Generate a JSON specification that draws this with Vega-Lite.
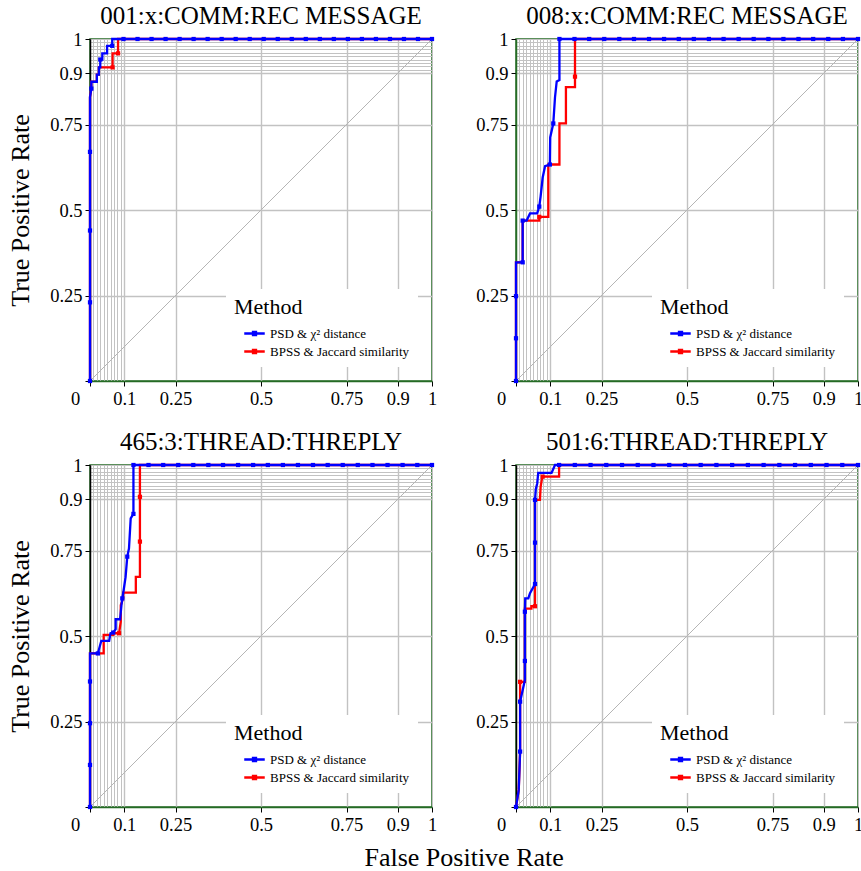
{
 "$schema": "https://vega.github.io/schema/vega-lite/v6.json",
 "padding": {"left": 6, "top": 3, "right": 0, "bottom": 5},
 "config": {
  "font": "Liberation Serif",
  "view": {"stroke": "#256b25", "strokeWidth": 1.5},
  "axis": {"grid": true, "gridColor": "#c2c2c2", "labelFont": "Liberation Serif", "labelFontSize": 18.5, "labelColor": "black", "labelOverlap": false, "labelFlush": false, "labelPadding": 3, "tickSize": 5, "tickWidth": 1, "titleFont": "Liberation Serif", "titleFontSize": 26, "titleFontWeight": "normal", "titleColor": "black", "domainWidth": 1.5},
  "title": {"font": "Liberation Serif", "fontSize": 25, "fontWeight": "normal", "color": "black", "offset": 1},
  "legend": {"orient": "bottom-right", "offset": 14, "padding": 8, "fillColor": "white", "titleFont": "Liberation Serif", "titleFontSize": 22, "titleFontWeight": "normal", "titleColor": "black", "labelFont": "Liberation Serif", "labelFontSize": 13, "labelColor": "black", "symbolType": "M-1,-0.11H1V0.11H-1Z M-0.26,-0.26H0.26V0.26H-0.26Z", "symbolSize": 420, "symbolStrokeWidth": 0, "symbolOffset": 10, "rowPadding": -2, "titlePadding": 4, "labelOffset": 5}
 },
 "datasets": {
  "diag": [{"fpr": 0, "tpr": 0}, {"fpr": 1, "tpr": 1}],
  "curves": [
   {"panel": "001", "method": "BPSS & Jaccard similarity", "fpr": 0, "tpr": 0},
   {"panel": "001", "method": "BPSS & Jaccard similarity", "fpr": 0, "tpr": 0.83},
   {"panel": "001", "method": "BPSS & Jaccard similarity", "fpr": 0.004, "tpr": 0.855},
   {"panel": "001", "method": "BPSS & Jaccard similarity", "fpr": 0.004, "tpr": 0.875},
   {"panel": "001", "method": "BPSS & Jaccard similarity", "fpr": 0.02, "tpr": 0.875},
   {"panel": "001", "method": "BPSS & Jaccard similarity", "fpr": 0.02, "tpr": 0.896},
   {"panel": "001", "method": "BPSS & Jaccard similarity", "fpr": 0.026, "tpr": 0.896},
   {"panel": "001", "method": "BPSS & Jaccard similarity", "fpr": 0.026, "tpr": 0.917},
   {"panel": "001", "method": "BPSS & Jaccard similarity", "fpr": 0.066, "tpr": 0.917},
   {"panel": "001", "method": "BPSS & Jaccard similarity", "fpr": 0.066, "tpr": 0.958},
   {"panel": "001", "method": "BPSS & Jaccard similarity", "fpr": 0.082, "tpr": 0.958},
   {"panel": "001", "method": "BPSS & Jaccard similarity", "fpr": 0.082, "tpr": 1},
   {"panel": "001", "method": "BPSS & Jaccard similarity", "fpr": 1, "tpr": 1},
   {"panel": "001", "method": "PSD & χ² distance", "fpr": 0, "tpr": 0},
   {"panel": "001", "method": "PSD & χ² distance", "fpr": 0, "tpr": 0.83},
   {"panel": "001", "method": "PSD & χ² distance", "fpr": 0.004, "tpr": 0.855},
   {"panel": "001", "method": "PSD & χ² distance", "fpr": 0.004, "tpr": 0.875},
   {"panel": "001", "method": "PSD & χ² distance", "fpr": 0.02, "tpr": 0.875},
   {"panel": "001", "method": "PSD & χ² distance", "fpr": 0.02, "tpr": 0.896},
   {"panel": "001", "method": "PSD & χ² distance", "fpr": 0.026, "tpr": 0.896},
   {"panel": "001", "method": "PSD & χ² distance", "fpr": 0.026, "tpr": 0.917},
   {"panel": "001", "method": "PSD & χ² distance", "fpr": 0.03, "tpr": 0.917},
   {"panel": "001", "method": "PSD & χ² distance", "fpr": 0.03, "tpr": 0.94},
   {"panel": "001", "method": "PSD & χ² distance", "fpr": 0.036, "tpr": 0.94},
   {"panel": "001", "method": "PSD & χ² distance", "fpr": 0.036, "tpr": 0.958},
   {"panel": "001", "method": "PSD & χ² distance", "fpr": 0.05, "tpr": 0.958},
   {"panel": "001", "method": "PSD & χ² distance", "fpr": 0.05, "tpr": 0.98},
   {"panel": "001", "method": "PSD & χ² distance", "fpr": 0.065, "tpr": 0.98},
   {"panel": "001", "method": "PSD & χ² distance", "fpr": 0.065, "tpr": 1},
   {"panel": "001", "method": "PSD & χ² distance", "fpr": 1, "tpr": 1},

   {"panel": "008", "method": "BPSS & Jaccard similarity", "fpr": 0, "tpr": 0},
   {"panel": "008", "method": "BPSS & Jaccard similarity", "fpr": 0, "tpr": 0.347},
   {"panel": "008", "method": "BPSS & Jaccard similarity", "fpr": 0.0195, "tpr": 0.347},
   {"panel": "008", "method": "BPSS & Jaccard similarity", "fpr": 0.0195, "tpr": 0.469},
   {"panel": "008", "method": "BPSS & Jaccard similarity", "fpr": 0.068, "tpr": 0.469},
   {"panel": "008", "method": "BPSS & Jaccard similarity", "fpr": 0.068, "tpr": 0.48},
   {"panel": "008", "method": "BPSS & Jaccard similarity", "fpr": 0.0945, "tpr": 0.48},
   {"panel": "008", "method": "BPSS & Jaccard similarity", "fpr": 0.0945, "tpr": 0.633},
   {"panel": "008", "method": "BPSS & Jaccard similarity", "fpr": 0.127, "tpr": 0.633},
   {"panel": "008", "method": "BPSS & Jaccard similarity", "fpr": 0.127, "tpr": 0.753},
   {"panel": "008", "method": "BPSS & Jaccard similarity", "fpr": 0.146, "tpr": 0.753},
   {"panel": "008", "method": "BPSS & Jaccard similarity", "fpr": 0.146, "tpr": 0.859},
   {"panel": "008", "method": "BPSS & Jaccard similarity", "fpr": 0.1725, "tpr": 0.859},
   {"panel": "008", "method": "BPSS & Jaccard similarity", "fpr": 0.1725, "tpr": 1},
   {"panel": "008", "method": "BPSS & Jaccard similarity", "fpr": 1, "tpr": 1},
   {"panel": "008", "method": "PSD & χ² distance", "fpr": 0, "tpr": 0},
   {"panel": "008", "method": "PSD & χ² distance", "fpr": 0, "tpr": 0.347},
   {"panel": "008", "method": "PSD & χ² distance", "fpr": 0.0195, "tpr": 0.347},
   {"panel": "008", "method": "PSD & χ² distance", "fpr": 0.0195, "tpr": 0.469},
   {"panel": "008", "method": "PSD & χ² distance", "fpr": 0.031, "tpr": 0.469},
   {"panel": "008", "method": "PSD & χ² distance", "fpr": 0.041, "tpr": 0.49},
   {"panel": "008", "method": "PSD & χ² distance", "fpr": 0.062, "tpr": 0.49},
   {"panel": "008", "method": "PSD & χ² distance", "fpr": 0.068, "tpr": 0.51},
   {"panel": "008", "method": "PSD & χ² distance", "fpr": 0.072, "tpr": 0.54},
   {"panel": "008", "method": "PSD & χ² distance", "fpr": 0.078, "tpr": 0.595},
   {"panel": "008", "method": "PSD & χ² distance", "fpr": 0.085, "tpr": 0.628},
   {"panel": "008", "method": "PSD & χ² distance", "fpr": 0.099, "tpr": 0.633},
   {"panel": "008", "method": "PSD & χ² distance", "fpr": 0.1, "tpr": 0.712},
   {"panel": "008", "method": "PSD & χ² distance", "fpr": 0.109, "tpr": 0.753},
   {"panel": "008", "method": "PSD & χ² distance", "fpr": 0.114, "tpr": 0.829},
   {"panel": "008", "method": "PSD & χ² distance", "fpr": 0.119, "tpr": 0.876},
   {"panel": "008", "method": "PSD & χ² distance", "fpr": 0.127, "tpr": 0.88},
   {"panel": "008", "method": "PSD & χ² distance", "fpr": 0.127, "tpr": 1},
   {"panel": "008", "method": "PSD & χ² distance", "fpr": 1, "tpr": 1},

   {"panel": "465", "method": "BPSS & Jaccard similarity", "fpr": 0, "tpr": 0},
   {"panel": "465", "method": "BPSS & Jaccard similarity", "fpr": 0, "tpr": 0.449},
   {"panel": "465", "method": "BPSS & Jaccard similarity", "fpr": 0.04, "tpr": 0.449},
   {"panel": "465", "method": "BPSS & Jaccard similarity", "fpr": 0.04, "tpr": 0.503},
   {"panel": "465", "method": "BPSS & Jaccard similarity", "fpr": 0.068, "tpr": 0.503},
   {"panel": "465", "method": "BPSS & Jaccard similarity", "fpr": 0.068, "tpr": 0.508},
   {"panel": "465", "method": "BPSS & Jaccard similarity", "fpr": 0.085, "tpr": 0.508},
   {"panel": "465", "method": "BPSS & Jaccard similarity", "fpr": 0.09, "tpr": 0.542},
   {"panel": "465", "method": "BPSS & Jaccard similarity", "fpr": 0.09, "tpr": 0.59},
   {"panel": "465", "method": "BPSS & Jaccard similarity", "fpr": 0.097, "tpr": 0.61},
   {"panel": "465", "method": "BPSS & Jaccard similarity", "fpr": 0.097, "tpr": 0.627},
   {"panel": "465", "method": "BPSS & Jaccard similarity", "fpr": 0.134, "tpr": 0.627},
   {"panel": "465", "method": "BPSS & Jaccard similarity", "fpr": 0.134, "tpr": 0.673},
   {"panel": "465", "method": "BPSS & Jaccard similarity", "fpr": 0.146, "tpr": 0.673},
   {"panel": "465", "method": "BPSS & Jaccard similarity", "fpr": 0.146, "tpr": 1},
   {"panel": "465", "method": "BPSS & Jaccard similarity", "fpr": 1, "tpr": 1},
   {"panel": "465", "method": "PSD & χ² distance", "fpr": 0, "tpr": 0},
   {"panel": "465", "method": "PSD & χ² distance", "fpr": 0, "tpr": 0.449},
   {"panel": "465", "method": "PSD & χ² distance", "fpr": 0.023, "tpr": 0.449},
   {"panel": "465", "method": "PSD & χ² distance", "fpr": 0.033, "tpr": 0.486},
   {"panel": "465", "method": "PSD & χ² distance", "fpr": 0.056, "tpr": 0.486},
   {"panel": "465", "method": "PSD & χ² distance", "fpr": 0.06, "tpr": 0.508},
   {"panel": "465", "method": "PSD & χ² distance", "fpr": 0.068, "tpr": 0.51},
   {"panel": "465", "method": "PSD & χ² distance", "fpr": 0.075, "tpr": 0.52},
   {"panel": "465", "method": "PSD & χ² distance", "fpr": 0.075, "tpr": 0.549},
   {"panel": "465", "method": "PSD & χ² distance", "fpr": 0.088, "tpr": 0.549},
   {"panel": "465", "method": "PSD & χ² distance", "fpr": 0.092, "tpr": 0.59},
   {"panel": "465", "method": "PSD & χ² distance", "fpr": 0.0945, "tpr": 0.61},
   {"panel": "465", "method": "PSD & χ² distance", "fpr": 0.097, "tpr": 0.625},
   {"panel": "465", "method": "PSD & χ² distance", "fpr": 0.104, "tpr": 0.672},
   {"panel": "465", "method": "PSD & χ² distance", "fpr": 0.109, "tpr": 0.732},
   {"panel": "465", "method": "PSD & χ² distance", "fpr": 0.114, "tpr": 0.756},
   {"panel": "465", "method": "PSD & χ² distance", "fpr": 0.119, "tpr": 0.844},
   {"panel": "465", "method": "PSD & χ² distance", "fpr": 0.127, "tpr": 0.857},
   {"panel": "465", "method": "PSD & χ² distance", "fpr": 0.127, "tpr": 1},
   {"panel": "465", "method": "PSD & χ² distance", "fpr": 1, "tpr": 1},

   {"panel": "501", "method": "BPSS & Jaccard similarity", "fpr": 0, "tpr": 0},
   {"panel": "501", "method": "BPSS & Jaccard similarity", "fpr": 0.008, "tpr": 0.05},
   {"panel": "501", "method": "BPSS & Jaccard similarity", "fpr": 0.012, "tpr": 0.162},
   {"panel": "501", "method": "BPSS & Jaccard similarity", "fpr": 0.012, "tpr": 0.366},
   {"panel": "501", "method": "BPSS & Jaccard similarity", "fpr": 0.026, "tpr": 0.366},
   {"panel": "501", "method": "BPSS & Jaccard similarity", "fpr": 0.026, "tpr": 0.58},
   {"panel": "501", "method": "BPSS & Jaccard similarity", "fpr": 0.045, "tpr": 0.58},
   {"panel": "501", "method": "BPSS & Jaccard similarity", "fpr": 0.045, "tpr": 0.587},
   {"panel": "501", "method": "BPSS & Jaccard similarity", "fpr": 0.0556, "tpr": 0.587},
   {"panel": "501", "method": "BPSS & Jaccard similarity", "fpr": 0.0556, "tpr": 0.898},
   {"panel": "501", "method": "BPSS & Jaccard similarity", "fpr": 0.07, "tpr": 0.898},
   {"panel": "501", "method": "BPSS & Jaccard similarity", "fpr": 0.072, "tpr": 0.936},
   {"panel": "501", "method": "BPSS & Jaccard similarity", "fpr": 0.077, "tpr": 0.966},
   {"panel": "501", "method": "BPSS & Jaccard similarity", "fpr": 0.126, "tpr": 0.966},
   {"panel": "501", "method": "BPSS & Jaccard similarity", "fpr": 0.126, "tpr": 1},
   {"panel": "501", "method": "BPSS & Jaccard similarity", "fpr": 1, "tpr": 1},
   {"panel": "501", "method": "PSD & χ² distance", "fpr": 0, "tpr": 0},
   {"panel": "501", "method": "PSD & χ² distance", "fpr": 0.008, "tpr": 0.05},
   {"panel": "501", "method": "PSD & χ² distance", "fpr": 0.012, "tpr": 0.162},
   {"panel": "501", "method": "PSD & χ² distance", "fpr": 0.012, "tpr": 0.308},
   {"panel": "501", "method": "PSD & χ² distance", "fpr": 0.026, "tpr": 0.371},
   {"panel": "501", "method": "PSD & χ² distance", "fpr": 0.026, "tpr": 0.571},
   {"panel": "501", "method": "PSD & χ² distance", "fpr": 0.027, "tpr": 0.61},
   {"panel": "501", "method": "PSD & χ² distance", "fpr": 0.036, "tpr": 0.61},
   {"panel": "501", "method": "PSD & χ² distance", "fpr": 0.041, "tpr": 0.625},
   {"panel": "501", "method": "PSD & χ² distance", "fpr": 0.0556, "tpr": 0.652},
   {"panel": "501", "method": "PSD & χ² distance", "fpr": 0.0556, "tpr": 0.898},
   {"panel": "501", "method": "PSD & χ² distance", "fpr": 0.058, "tpr": 0.93},
   {"panel": "501", "method": "PSD & χ² distance", "fpr": 0.062, "tpr": 0.946},
   {"panel": "501", "method": "PSD & χ² distance", "fpr": 0.065, "tpr": 0.977},
   {"panel": "501", "method": "PSD & χ² distance", "fpr": 0.104, "tpr": 0.977},
   {"panel": "501", "method": "PSD & χ² distance", "fpr": 0.114, "tpr": 1},
   {"panel": "501", "method": "PSD & χ² distance", "fpr": 1, "tpr": 1}
  ],
  "markers": [
   {"panel": "001", "method": "BPSS & Jaccard similarity", "fpr": 0.066, "tpr": 0.917},
   {"panel": "001", "method": "BPSS & Jaccard similarity", "fpr": 0.082, "tpr": 0.958},
   {"panel": "001", "method": "PSD & χ² distance", "fpr": 0, "tpr": 0},
   {"panel": "001", "method": "PSD & χ² distance", "fpr": 0, "tpr": 0.23},
   {"panel": "001", "method": "PSD & χ² distance", "fpr": 0, "tpr": 0.44},
   {"panel": "001", "method": "PSD & χ² distance", "fpr": 0, "tpr": 0.67},
   {"panel": "001", "method": "PSD & χ² distance", "fpr": 0.004, "tpr": 0.855},
   {"panel": "001", "method": "PSD & χ² distance", "fpr": 0.03, "tpr": 0.94},
   {"panel": "001", "method": "PSD & χ² distance", "fpr": 0.065, "tpr": 0.98},
   {"panel": "001", "method": "PSD & χ² distance", "fpr": 0.098, "tpr": 1},
   {"panel": "001", "method": "PSD & χ² distance", "fpr": 0.139, "tpr": 1},
   {"panel": "001", "method": "PSD & χ² distance", "fpr": 0.18, "tpr": 1},
   {"panel": "001", "method": "PSD & χ² distance", "fpr": 0.221, "tpr": 1},
   {"panel": "001", "method": "PSD & χ² distance", "fpr": 0.262, "tpr": 1},
   {"panel": "001", "method": "PSD & χ² distance", "fpr": 0.303, "tpr": 1},
   {"panel": "001", "method": "PSD & χ² distance", "fpr": 0.344, "tpr": 1},
   {"panel": "001", "method": "PSD & χ² distance", "fpr": 0.385, "tpr": 1},
   {"panel": "001", "method": "PSD & χ² distance", "fpr": 0.426, "tpr": 1},
   {"panel": "001", "method": "PSD & χ² distance", "fpr": 0.467, "tpr": 1},
   {"panel": "001", "method": "PSD & χ² distance", "fpr": 0.508, "tpr": 1},
   {"panel": "001", "method": "PSD & χ² distance", "fpr": 0.549, "tpr": 1},
   {"panel": "001", "method": "PSD & χ² distance", "fpr": 0.59, "tpr": 1},
   {"panel": "001", "method": "PSD & χ² distance", "fpr": 0.631, "tpr": 1},
   {"panel": "001", "method": "PSD & χ² distance", "fpr": 0.672, "tpr": 1},
   {"panel": "001", "method": "PSD & χ² distance", "fpr": 0.713, "tpr": 1},
   {"panel": "001", "method": "PSD & χ² distance", "fpr": 0.754, "tpr": 1},
   {"panel": "001", "method": "PSD & χ² distance", "fpr": 0.795, "tpr": 1},
   {"panel": "001", "method": "PSD & χ² distance", "fpr": 0.836, "tpr": 1},
   {"panel": "001", "method": "PSD & χ² distance", "fpr": 0.877, "tpr": 1},
   {"panel": "001", "method": "PSD & χ² distance", "fpr": 0.918, "tpr": 1},
   {"panel": "001", "method": "PSD & χ² distance", "fpr": 0.959, "tpr": 1},
   {"panel": "001", "method": "PSD & χ² distance", "fpr": 1, "tpr": 1},

   {"panel": "008", "method": "BPSS & Jaccard similarity", "fpr": 0.068, "tpr": 0.48},
   {"panel": "008", "method": "BPSS & Jaccard similarity", "fpr": 0.1725, "tpr": 0.89},
   {"panel": "008", "method": "PSD & χ² distance", "fpr": 0, "tpr": 0},
   {"panel": "008", "method": "PSD & χ² distance", "fpr": 0, "tpr": 0.125},
   {"panel": "008", "method": "PSD & χ² distance", "fpr": 0, "tpr": 0.248},
   {"panel": "008", "method": "PSD & χ² distance", "fpr": 0.0195, "tpr": 0.347},
   {"panel": "008", "method": "PSD & χ² distance", "fpr": 0.0195, "tpr": 0.469},
   {"panel": "008", "method": "PSD & χ² distance", "fpr": 0.068, "tpr": 0.51},
   {"panel": "008", "method": "PSD & χ² distance", "fpr": 0.099, "tpr": 0.633},
   {"panel": "008", "method": "PSD & χ² distance", "fpr": 0.109, "tpr": 0.753},
   {"panel": "008", "method": "PSD & χ² distance", "fpr": 0.127, "tpr": 1},
   {"panel": "008", "method": "PSD & χ² distance", "fpr": 0.171, "tpr": 1},
   {"panel": "008", "method": "PSD & χ² distance", "fpr": 0.214, "tpr": 1},
   {"panel": "008", "method": "PSD & χ² distance", "fpr": 0.258, "tpr": 1},
   {"panel": "008", "method": "PSD & χ² distance", "fpr": 0.302, "tpr": 1},
   {"panel": "008", "method": "PSD & χ² distance", "fpr": 0.345, "tpr": 1},
   {"panel": "008", "method": "PSD & χ² distance", "fpr": 0.389, "tpr": 1},
   {"panel": "008", "method": "PSD & χ² distance", "fpr": 0.433, "tpr": 1},
   {"panel": "008", "method": "PSD & χ² distance", "fpr": 0.476, "tpr": 1},
   {"panel": "008", "method": "PSD & χ² distance", "fpr": 0.52, "tpr": 1},
   {"panel": "008", "method": "PSD & χ² distance", "fpr": 0.564, "tpr": 1},
   {"panel": "008", "method": "PSD & χ² distance", "fpr": 0.607, "tpr": 1},
   {"panel": "008", "method": "PSD & χ² distance", "fpr": 0.651, "tpr": 1},
   {"panel": "008", "method": "PSD & χ² distance", "fpr": 0.695, "tpr": 1},
   {"panel": "008", "method": "PSD & χ² distance", "fpr": 0.738, "tpr": 1},
   {"panel": "008", "method": "PSD & χ² distance", "fpr": 0.782, "tpr": 1},
   {"panel": "008", "method": "PSD & χ² distance", "fpr": 0.826, "tpr": 1},
   {"panel": "008", "method": "PSD & χ² distance", "fpr": 0.869, "tpr": 1},
   {"panel": "008", "method": "PSD & χ² distance", "fpr": 0.913, "tpr": 1},
   {"panel": "008", "method": "PSD & χ² distance", "fpr": 0.956, "tpr": 1},
   {"panel": "008", "method": "PSD & χ² distance", "fpr": 1, "tpr": 1},

   {"panel": "465", "method": "BPSS & Jaccard similarity", "fpr": 0.085, "tpr": 0.508},
   {"panel": "465", "method": "BPSS & Jaccard similarity", "fpr": 0.146, "tpr": 0.776},
   {"panel": "465", "method": "BPSS & Jaccard similarity", "fpr": 0.146, "tpr": 0.907},
   {"panel": "465", "method": "PSD & χ² distance", "fpr": 0, "tpr": 0},
   {"panel": "465", "method": "PSD & χ² distance", "fpr": 0, "tpr": 0.123},
   {"panel": "465", "method": "PSD & χ² distance", "fpr": 0, "tpr": 0.245},
   {"panel": "465", "method": "PSD & χ² distance", "fpr": 0, "tpr": 0.367},
   {"panel": "465", "method": "PSD & χ² distance", "fpr": 0.023, "tpr": 0.449},
   {"panel": "465", "method": "PSD & χ² distance", "fpr": 0.068, "tpr": 0.51},
   {"panel": "465", "method": "PSD & χ² distance", "fpr": 0.0945, "tpr": 0.61},
   {"panel": "465", "method": "PSD & χ² distance", "fpr": 0.109, "tpr": 0.732},
   {"panel": "465", "method": "PSD & χ² distance", "fpr": 0.127, "tpr": 0.857},
   {"panel": "465", "method": "PSD & χ² distance", "fpr": 0.127, "tpr": 1},
   {"panel": "465", "method": "PSD & χ² distance", "fpr": 0.171, "tpr": 1},
   {"panel": "465", "method": "PSD & χ² distance", "fpr": 0.214, "tpr": 1},
   {"panel": "465", "method": "PSD & χ² distance", "fpr": 0.258, "tpr": 1},
   {"panel": "465", "method": "PSD & χ² distance", "fpr": 0.302, "tpr": 1},
   {"panel": "465", "method": "PSD & χ² distance", "fpr": 0.346, "tpr": 1},
   {"panel": "465", "method": "PSD & χ² distance", "fpr": 0.389, "tpr": 1},
   {"panel": "465", "method": "PSD & χ² distance", "fpr": 0.433, "tpr": 1},
   {"panel": "465", "method": "PSD & χ² distance", "fpr": 0.477, "tpr": 1},
   {"panel": "465", "method": "PSD & χ² distance", "fpr": 0.52, "tpr": 1},
   {"panel": "465", "method": "PSD & χ² distance", "fpr": 0.564, "tpr": 1},
   {"panel": "465", "method": "PSD & χ² distance", "fpr": 0.608, "tpr": 1},
   {"panel": "465", "method": "PSD & χ² distance", "fpr": 0.652, "tpr": 1},
   {"panel": "465", "method": "PSD & χ² distance", "fpr": 0.695, "tpr": 1},
   {"panel": "465", "method": "PSD & χ² distance", "fpr": 0.739, "tpr": 1},
   {"panel": "465", "method": "PSD & χ² distance", "fpr": 0.783, "tpr": 1},
   {"panel": "465", "method": "PSD & χ² distance", "fpr": 0.826, "tpr": 1},
   {"panel": "465", "method": "PSD & χ² distance", "fpr": 0.87, "tpr": 1},
   {"panel": "465", "method": "PSD & χ² distance", "fpr": 0.914, "tpr": 1},
   {"panel": "465", "method": "PSD & χ² distance", "fpr": 0.957, "tpr": 1},
   {"panel": "465", "method": "PSD & χ² distance", "fpr": 1, "tpr": 1},

   {"panel": "501", "method": "BPSS & Jaccard similarity", "fpr": 0.012, "tpr": 0.366},
   {"panel": "501", "method": "BPSS & Jaccard similarity", "fpr": 0.0556, "tpr": 0.587},
   {"panel": "501", "method": "BPSS & Jaccard similarity", "fpr": 0.078, "tpr": 0.966},
   {"panel": "501", "method": "PSD & χ² distance", "fpr": 0, "tpr": 0},
   {"panel": "501", "method": "PSD & χ² distance", "fpr": 0.012, "tpr": 0.162},
   {"panel": "501", "method": "PSD & χ² distance", "fpr": 0.012, "tpr": 0.308},
   {"panel": "501", "method": "PSD & χ² distance", "fpr": 0.026, "tpr": 0.427},
   {"panel": "501", "method": "PSD & χ² distance", "fpr": 0.026, "tpr": 0.571},
   {"panel": "501", "method": "PSD & χ² distance", "fpr": 0.0556, "tpr": 0.652},
   {"panel": "501", "method": "PSD & χ² distance", "fpr": 0.0556, "tpr": 0.773},
   {"panel": "501", "method": "PSD & χ² distance", "fpr": 0.0556, "tpr": 0.898},
   {"panel": "501", "method": "PSD & χ² distance", "fpr": 0.126, "tpr": 1},
   {"panel": "501", "method": "PSD & χ² distance", "fpr": 0.172, "tpr": 1},
   {"panel": "501", "method": "PSD & χ² distance", "fpr": 0.218, "tpr": 1},
   {"panel": "501", "method": "PSD & χ² distance", "fpr": 0.264, "tpr": 1},
   {"panel": "501", "method": "PSD & χ² distance", "fpr": 0.31, "tpr": 1},
   {"panel": "501", "method": "PSD & χ² distance", "fpr": 0.356, "tpr": 1},
   {"panel": "501", "method": "PSD & χ² distance", "fpr": 0.402, "tpr": 1},
   {"panel": "501", "method": "PSD & χ² distance", "fpr": 0.448, "tpr": 1},
   {"panel": "501", "method": "PSD & χ² distance", "fpr": 0.494, "tpr": 1},
   {"panel": "501", "method": "PSD & χ² distance", "fpr": 0.54, "tpr": 1},
   {"panel": "501", "method": "PSD & χ² distance", "fpr": 0.586, "tpr": 1},
   {"panel": "501", "method": "PSD & χ² distance", "fpr": 0.632, "tpr": 1},
   {"panel": "501", "method": "PSD & χ² distance", "fpr": 0.678, "tpr": 1},
   {"panel": "501", "method": "PSD & χ² distance", "fpr": 0.724, "tpr": 1},
   {"panel": "501", "method": "PSD & χ² distance", "fpr": 0.77, "tpr": 1},
   {"panel": "501", "method": "PSD & χ² distance", "fpr": 0.816, "tpr": 1},
   {"panel": "501", "method": "PSD & χ² distance", "fpr": 0.862, "tpr": 1},
   {"panel": "501", "method": "PSD & χ² distance", "fpr": 0.908, "tpr": 1},
   {"panel": "501", "method": "PSD & χ² distance", "fpr": 0.954, "tpr": 1},
   {"panel": "501", "method": "PSD & χ² distance", "fpr": 1, "tpr": 1}
  ]
 },
 "title": {"text": "False Positive Rate", "orient": "bottom", "anchor": "middle", "fontSize": 26, "offset": 11, "dx": 29},
 "columns": 2,
 "spacing": 84,
 "bounds": "flush",
 "resolve": {"scale": {"color": "independent"}, "legend": {"color": "independent"}},
 "concat": [
  {
   "width": 342, "height": 342,
   "title": "001:x:COMM:REC MESSAGE",
   "encoding": {
    "x": {"field": "fpr", "type": "quantitative", "scale": {"domain": [0, 1], "nice": false}, "axis": {"title": null, "values": [0, 0.01, 0.02, 0.03, 0.04, 0.05, 0.06, 0.07, 0.08, 0.09, 0.1, 0.25, 0.5, 0.75, 0.9, 1], "format": "~g", "labelExpr": "indexof([0,0.1,0.25,0.5,0.75,0.9,1], datum.value) >= 0 ? datum.label : ''", "labelOffset": {"condition": {"test": "datum.value == 0", "value": -15}, "value": 0}, "tickColor": {"condition": {"test": "indexof([0,0.1,0.25,0.5,0.75,0.9,1], datum.value) >= 0", "value": "#000000"}, "value": "rgba(0,0,0,0)"}, "gridWidth": {"condition": {"test": "indexof([0.1,0.25,0.5,0.75,0.9], datum.value) >= 0", "value": 1.4}, "value": 1}, "domainColor": "#256b25"}},
    "y": {"field": "tpr", "type": "quantitative", "scale": {"domain": [0, 1], "nice": false}, "axis": {"title": "True Positive Rate", "titlePadding": 16, "values": [0, 0.25, 0.5, 0.75, 0.9, 0.91, 0.92, 0.93, 0.94, 0.95, 0.96, 0.97, 0.98, 0.99, 1], "format": "~g", "labelExpr": "indexof([0.25,0.5,0.75,0.9,1], datum.value) >= 0 ? datum.label : ''", "tickColor": {"condition": {"test": "indexof([0,0.25,0.5,0.75,0.9,1], datum.value) >= 0", "value": "#000000"}, "value": "rgba(0,0,0,0)"}, "gridWidth": {"condition": {"test": "indexof([0.25,0.5,0.75,0.9], datum.value) >= 0", "value": 1.4}, "value": 1}, "domainColor": "#000000"}}
   },
   "layer": [
    {"data": {"name": "diag"}, "mark": {"type": "line", "color": "#b5b5b5", "strokeWidth": 1}, "encoding": {}},
    {"data": {"name": "curves"}, "transform": [{"filter": "datum.panel == '001' && datum.method == 'BPSS & Jaccard similarity'"}], "mark": {"type": "line", "strokeWidth": 2.3}, "encoding": {"color": {"field": "method", "type": "nominal", "title": "Method", "scale": {"domain": ["PSD & χ² distance", "BPSS & Jaccard similarity"], "range": ["#0000ff", "#ff0000"]}, "legend": {"title": "Method", "fillColor": "white"}}, "order": [{"field": "fpr", "type": "quantitative"}, {"field": "tpr", "type": "quantitative"}]}},
    {"data": {"name": "curves"}, "transform": [{"filter": "datum.panel == '001' && datum.method == 'PSD & χ² distance'"}], "mark": {"type": "line", "strokeWidth": 2.3}, "encoding": {"color": {"field": "method", "type": "nominal", "title": "Method", "scale": {"domain": ["PSD & χ² distance", "BPSS & Jaccard similarity"], "range": ["#0000ff", "#ff0000"]}, "legend": {"title": "Method", "fillColor": "white"}}, "order": [{"field": "fpr", "type": "quantitative"}, {"field": "tpr", "type": "quantitative"}]}},
    {"data": {"name": "markers"}, "transform": [{"filter": "datum.panel == '001' && datum.method == 'BPSS & Jaccard similarity'"}], "mark": {"type": "square", "size": 18, "opacity": 1}, "encoding": {"color": {"field": "method", "type": "nominal", "title": "Method", "scale": {"domain": ["PSD & χ² distance", "BPSS & Jaccard similarity"], "range": ["#0000ff", "#ff0000"]}, "legend": {"title": "Method", "fillColor": "white"}}}},
    {"data": {"name": "markers"}, "transform": [{"filter": "datum.panel == '001' && datum.method == 'PSD & χ² distance'"}], "mark": {"type": "square", "size": 18, "opacity": 1}, "encoding": {"color": {"field": "method", "type": "nominal", "title": "Method", "scale": {"domain": ["PSD & χ² distance", "BPSS & Jaccard similarity"], "range": ["#0000ff", "#ff0000"]}, "legend": {"title": "Method", "fillColor": "white"}}}}
   ]
  },
  {
   "width": 342, "height": 342,
   "title": "008:x:COMM:REC MESSAGE",
   "encoding": {
    "x": {"field": "fpr", "type": "quantitative", "scale": {"domain": [0, 1], "nice": false}, "axis": {"title": null, "values": [0, 0.01, 0.02, 0.03, 0.04, 0.05, 0.06, 0.07, 0.08, 0.09, 0.1, 0.25, 0.5, 0.75, 0.9, 1], "format": "~g", "labelExpr": "indexof([0,0.1,0.25,0.5,0.75,0.9,1], datum.value) >= 0 ? datum.label : ''", "labelOffset": {"condition": {"test": "datum.value == 0", "value": -15}, "value": 0}, "tickColor": {"condition": {"test": "indexof([0,0.1,0.25,0.5,0.75,0.9,1], datum.value) >= 0", "value": "#000000"}, "value": "rgba(0,0,0,0)"}, "gridWidth": {"condition": {"test": "indexof([0.1,0.25,0.5,0.75,0.9], datum.value) >= 0", "value": 1.4}, "value": 1}, "domainColor": "#256b25"}},
    "y": {"field": "tpr", "type": "quantitative", "scale": {"domain": [0, 1], "nice": false}, "axis": {"title": null, "values": [0, 0.25, 0.5, 0.75, 0.9, 0.91, 0.92, 0.93, 0.94, 0.95, 0.96, 0.97, 0.98, 0.99, 1], "format": "~g", "labelExpr": "indexof([0.25,0.5,0.75,0.9,1], datum.value) >= 0 ? datum.label : ''", "tickColor": {"condition": {"test": "indexof([0,0.25,0.5,0.75,0.9,1], datum.value) >= 0", "value": "#000000"}, "value": "rgba(0,0,0,0)"}, "gridWidth": {"condition": {"test": "indexof([0.25,0.5,0.75,0.9], datum.value) >= 0", "value": 1.4}, "value": 1}, "domainColor": "#256b25"}}
   },
   "layer": [
    {"data": {"name": "diag"}, "mark": {"type": "line", "color": "#b5b5b5", "strokeWidth": 1}, "encoding": {}},
    {"data": {"name": "curves"}, "transform": [{"filter": "datum.panel == '008' && datum.method == 'BPSS & Jaccard similarity'"}], "mark": {"type": "line", "strokeWidth": 2.3}, "encoding": {"color": {"field": "method", "type": "nominal", "title": "Method", "scale": {"domain": ["PSD & χ² distance", "BPSS & Jaccard similarity"], "range": ["#0000ff", "#ff0000"]}, "legend": {"title": "Method", "fillColor": "white"}}, "order": [{"field": "fpr", "type": "quantitative"}, {"field": "tpr", "type": "quantitative"}]}},
    {"data": {"name": "curves"}, "transform": [{"filter": "datum.panel == '008' && datum.method == 'PSD & χ² distance'"}], "mark": {"type": "line", "strokeWidth": 2.3}, "encoding": {"color": {"field": "method", "type": "nominal", "title": "Method", "scale": {"domain": ["PSD & χ² distance", "BPSS & Jaccard similarity"], "range": ["#0000ff", "#ff0000"]}, "legend": {"title": "Method", "fillColor": "white"}}, "order": [{"field": "fpr", "type": "quantitative"}, {"field": "tpr", "type": "quantitative"}]}},
    {"data": {"name": "markers"}, "transform": [{"filter": "datum.panel == '008' && datum.method == 'BPSS & Jaccard similarity'"}], "mark": {"type": "square", "size": 18, "opacity": 1}, "encoding": {"color": {"field": "method", "type": "nominal", "title": "Method", "scale": {"domain": ["PSD & χ² distance", "BPSS & Jaccard similarity"], "range": ["#0000ff", "#ff0000"]}, "legend": {"title": "Method", "fillColor": "white"}}}},
    {"data": {"name": "markers"}, "transform": [{"filter": "datum.panel == '008' && datum.method == 'PSD & χ² distance'"}], "mark": {"type": "square", "size": 18, "opacity": 1}, "encoding": {"color": {"field": "method", "type": "nominal", "title": "Method", "scale": {"domain": ["PSD & χ² distance", "BPSS & Jaccard similarity"], "range": ["#0000ff", "#ff0000"]}, "legend": {"title": "Method", "fillColor": "white"}}}}
   ]
  },
  {
   "width": 342, "height": 342,
   "title": "465:3:THREAD:THREPLY",
   "encoding": {
    "x": {"field": "fpr", "type": "quantitative", "scale": {"domain": [0, 1], "nice": false}, "axis": {"title": null, "values": [0, 0.01, 0.02, 0.03, 0.04, 0.05, 0.06, 0.07, 0.08, 0.09, 0.1, 0.25, 0.5, 0.75, 0.9, 1], "format": "~g", "labelExpr": "indexof([0,0.1,0.25,0.5,0.75,0.9,1], datum.value) >= 0 ? datum.label : ''", "labelOffset": {"condition": {"test": "datum.value == 0", "value": -15}, "value": 0}, "tickColor": {"condition": {"test": "indexof([0,0.1,0.25,0.5,0.75,0.9,1], datum.value) >= 0", "value": "#000000"}, "value": "rgba(0,0,0,0)"}, "gridWidth": {"condition": {"test": "indexof([0.1,0.25,0.5,0.75,0.9], datum.value) >= 0", "value": 1.4}, "value": 1}, "domainColor": "#256b25"}},
    "y": {"field": "tpr", "type": "quantitative", "scale": {"domain": [0, 1], "nice": false}, "axis": {"title": "True Positive Rate", "titlePadding": 16, "values": [0, 0.25, 0.5, 0.75, 0.9, 0.91, 0.92, 0.93, 0.94, 0.95, 0.96, 0.97, 0.98, 0.99, 1], "format": "~g", "labelExpr": "indexof([0.25,0.5,0.75,0.9,1], datum.value) >= 0 ? datum.label : ''", "tickColor": {"condition": {"test": "indexof([0,0.25,0.5,0.75,0.9,1], datum.value) >= 0", "value": "#000000"}, "value": "rgba(0,0,0,0)"}, "gridWidth": {"condition": {"test": "indexof([0.25,0.5,0.75,0.9], datum.value) >= 0", "value": 1.4}, "value": 1}, "domainColor": "#000000"}}
   },
   "layer": [
    {"data": {"name": "diag"}, "mark": {"type": "line", "color": "#b5b5b5", "strokeWidth": 1}, "encoding": {}},
    {"data": {"name": "curves"}, "transform": [{"filter": "datum.panel == '465' && datum.method == 'BPSS & Jaccard similarity'"}], "mark": {"type": "line", "strokeWidth": 2.3}, "encoding": {"color": {"field": "method", "type": "nominal", "title": "Method", "scale": {"domain": ["PSD & χ² distance", "BPSS & Jaccard similarity"], "range": ["#0000ff", "#ff0000"]}, "legend": {"title": "Method", "fillColor": "white"}}, "order": [{"field": "fpr", "type": "quantitative"}, {"field": "tpr", "type": "quantitative"}]}},
    {"data": {"name": "curves"}, "transform": [{"filter": "datum.panel == '465' && datum.method == 'PSD & χ² distance'"}], "mark": {"type": "line", "strokeWidth": 2.3}, "encoding": {"color": {"field": "method", "type": "nominal", "title": "Method", "scale": {"domain": ["PSD & χ² distance", "BPSS & Jaccard similarity"], "range": ["#0000ff", "#ff0000"]}, "legend": {"title": "Method", "fillColor": "white"}}, "order": [{"field": "fpr", "type": "quantitative"}, {"field": "tpr", "type": "quantitative"}]}},
    {"data": {"name": "markers"}, "transform": [{"filter": "datum.panel == '465' && datum.method == 'BPSS & Jaccard similarity'"}], "mark": {"type": "square", "size": 18, "opacity": 1}, "encoding": {"color": {"field": "method", "type": "nominal", "title": "Method", "scale": {"domain": ["PSD & χ² distance", "BPSS & Jaccard similarity"], "range": ["#0000ff", "#ff0000"]}, "legend": {"title": "Method", "fillColor": "white"}}}},
    {"data": {"name": "markers"}, "transform": [{"filter": "datum.panel == '465' && datum.method == 'PSD & χ² distance'"}], "mark": {"type": "square", "size": 18, "opacity": 1}, "encoding": {"color": {"field": "method", "type": "nominal", "title": "Method", "scale": {"domain": ["PSD & χ² distance", "BPSS & Jaccard similarity"], "range": ["#0000ff", "#ff0000"]}, "legend": {"title": "Method", "fillColor": "white"}}}}
   ]
  },
  {
   "width": 342, "height": 342,
   "title": "501:6:THREAD:THREPLY",
   "encoding": {
    "x": {"field": "fpr", "type": "quantitative", "scale": {"domain": [0, 1], "nice": false}, "axis": {"title": null, "values": [0, 0.01, 0.02, 0.03, 0.04, 0.05, 0.06, 0.07, 0.08, 0.09, 0.1, 0.25, 0.5, 0.75, 0.9, 1], "format": "~g", "labelExpr": "indexof([0,0.1,0.25,0.5,0.75,0.9,1], datum.value) >= 0 ? datum.label : ''", "labelOffset": {"condition": {"test": "datum.value == 0", "value": -15}, "value": 0}, "tickColor": {"condition": {"test": "indexof([0,0.1,0.25,0.5,0.75,0.9,1], datum.value) >= 0", "value": "#000000"}, "value": "rgba(0,0,0,0)"}, "gridWidth": {"condition": {"test": "indexof([0.1,0.25,0.5,0.75,0.9], datum.value) >= 0", "value": 1.4}, "value": 1}, "domainColor": "#256b25"}},
    "y": {"field": "tpr", "type": "quantitative", "scale": {"domain": [0, 1], "nice": false}, "axis": {"title": null, "values": [0, 0.25, 0.5, 0.75, 0.9, 0.91, 0.92, 0.93, 0.94, 0.95, 0.96, 0.97, 0.98, 0.99, 1], "format": "~g", "labelExpr": "indexof([0.25,0.5,0.75,0.9,1], datum.value) >= 0 ? datum.label : ''", "tickColor": {"condition": {"test": "indexof([0,0.25,0.5,0.75,0.9,1], datum.value) >= 0", "value": "#000000"}, "value": "rgba(0,0,0,0)"}, "gridWidth": {"condition": {"test": "indexof([0.25,0.5,0.75,0.9], datum.value) >= 0", "value": 1.4}, "value": 1}, "domainColor": "#000000"}}
   },
   "layer": [
    {"data": {"name": "diag"}, "mark": {"type": "line", "color": "#b5b5b5", "strokeWidth": 1}, "encoding": {}},
    {"data": {"name": "curves"}, "transform": [{"filter": "datum.panel == '501' && datum.method == 'BPSS & Jaccard similarity'"}], "mark": {"type": "line", "strokeWidth": 2.3}, "encoding": {"color": {"field": "method", "type": "nominal", "title": "Method", "scale": {"domain": ["PSD & χ² distance", "BPSS & Jaccard similarity"], "range": ["#0000ff", "#ff0000"]}, "legend": {"title": "Method", "fillColor": "white"}}, "order": [{"field": "fpr", "type": "quantitative"}, {"field": "tpr", "type": "quantitative"}]}},
    {"data": {"name": "curves"}, "transform": [{"filter": "datum.panel == '501' && datum.method == 'PSD & χ² distance'"}], "mark": {"type": "line", "strokeWidth": 2.3}, "encoding": {"color": {"field": "method", "type": "nominal", "title": "Method", "scale": {"domain": ["PSD & χ² distance", "BPSS & Jaccard similarity"], "range": ["#0000ff", "#ff0000"]}, "legend": {"title": "Method", "fillColor": "white"}}, "order": [{"field": "fpr", "type": "quantitative"}, {"field": "tpr", "type": "quantitative"}]}},
    {"data": {"name": "markers"}, "transform": [{"filter": "datum.panel == '501' && datum.method == 'BPSS & Jaccard similarity'"}], "mark": {"type": "square", "size": 18, "opacity": 1}, "encoding": {"color": {"field": "method", "type": "nominal", "title": "Method", "scale": {"domain": ["PSD & χ² distance", "BPSS & Jaccard similarity"], "range": ["#0000ff", "#ff0000"]}, "legend": {"title": "Method", "fillColor": "white"}}}},
    {"data": {"name": "markers"}, "transform": [{"filter": "datum.panel == '501' && datum.method == 'PSD & χ² distance'"}], "mark": {"type": "square", "size": 18, "opacity": 1}, "encoding": {"color": {"field": "method", "type": "nominal", "title": "Method", "scale": {"domain": ["PSD & χ² distance", "BPSS & Jaccard similarity"], "range": ["#0000ff", "#ff0000"]}, "legend": {"title": "Method", "fillColor": "white"}}}}
   ]
  }
 ]
}
